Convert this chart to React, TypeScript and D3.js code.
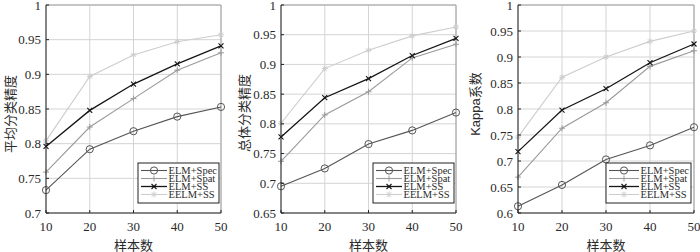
import React from "react";
import * as d3 from "d3";

const samples = [10, 20, 30, 40, 50];
const seriesNames = ["ELM+Spec", "ELM+Spat", "ELM+SS", "EELM+SS"];

// Panel 1: 平均分类精度
const aaSpec = [0.733, 0.792, 0.818, 0.839, 0.853];
const aaSpat = [0.759, 0.824, 0.865, 0.906, 0.931];
const aaSS = [0.796, 0.848, 0.886, 0.915, 0.941];
const aaEELM = [0.804, 0.897, 0.928, 0.947, 0.957];

// Panel 2: 总体分类精度
const oaSpec = [0.695, 0.725, 0.766, 0.789, 0.819];
const oaSpat = [0.737, 0.815, 0.854, 0.911, 0.934];
const oaSS = [0.778, 0.844, 0.876, 0.915, 0.944];
const oaEELM = [0.801, 0.893, 0.924, 0.948, 0.963];

// Panel 3: Kappa系数
const kSpec = [0.613, 0.654, 0.703, 0.730, 0.765];
const kSpat = [0.669, 0.763, 0.812, 0.882, 0.912];
const kSS = [0.718, 0.798, 0.839, 0.889, 0.925];
const kEELM = [0.746, 0.861, 0.900, 0.930, 0.950];

const ticks1 = [0.7, 0.75, 0.8, 0.85, 0.9, 0.95, 1];
const ticks2 = [0.65, 0.7, 0.75, 0.8, 0.85, 0.9, 0.95, 1];
const ticks3 = [0.6, 0.65, 0.7, 0.75, 0.8, 0.85, 0.9, 0.95, 1];

const colors = ["#555555", "#9a9a9a", "#151515", "#cdcdcd"];
const markerTypes = ["circle", "plus", "cross", "star"];

const SERIF = "'Liberation Serif', 'Times New Roman', 'DejaVu Serif', serif";
const CJK = "'Noto Sans CJK SC', sans-serif";

function Marker({ type, x, y, color }: { type: string; x: number; y: number; color: string }) {
  const s = 3;
  if (type === "circle")
    return <circle cx={x} cy={y} r={3.6} fill="none" stroke={color} strokeWidth={1} />;
  if (type === "plus")
    return (
      <path d={`M${x - s},${y}H${x + s}M${x},${y - s}V${y + s}`} stroke={color} strokeWidth={1} />
    );
  if (type === "cross")
    return (
      <path
        d={`M${x - 2.5},${y - 2.5}L${x + 2.5},${y + 2.5}M${x - 2.5},${y + 2.5}L${x + 2.5},${y - 2.5}`}
        stroke={color}
        strokeWidth={1.1}
      />
    );
  return (
    <path
      d={`M${x - s},${y}H${x + s}M${x},${y - s}V${y + s}M${x - 2.2},${y - 2.2}L${x + 2.2},${y + 2.2}M${x - 2.2},${y + 2.2}L${x + 2.2},${y - 2.2}`}
      stroke={color}
      strokeWidth={1}
    />
  );
}

function Panel({
  left,
  right,
  top,
  bottom,
  domain,
  ticks,
  data,
  ylabel,
  ylabelX,
  ylabelY,
  ylabelFont,
  legendX,
  legendW,
  legendLine,
}: any) {
  const x = d3.scaleLinear().domain([10, 50]).range([left, right]);
  const y = d3.scaleLinear().domain(domain).range([bottom, top]);
  const line = d3
    .line<number>()
    .x((_, i) => x(samples[i]))
    .y((d) => y(d));
  const fmt = (v: number) => String(+v.toFixed(2));
  const legendY = 163;
  const legendH = 40;
  return (
    <g>
      {samples.map((s) => (
        <line key={"gx" + s} x1={x(s)} x2={x(s)} y1={top} y2={bottom} stroke="#d4d4d4" strokeWidth={1} />
      ))}
      {ticks.map((t: number) => (
        <line key={"gy" + t} x1={left} x2={right} y1={y(t)} y2={y(t)} stroke="#d4d4d4" strokeWidth={1} />
      ))}
      <line x1={left} x2={right} y1={top} y2={top} stroke="#a0a0a0" strokeWidth={1} />
      <line x1={right} x2={right} y1={top} y2={bottom} stroke="#a0a0a0" strokeWidth={1} />
      {data.map((vals: number[], i: number) => (
        <g key={"s" + i}>
          <path d={line(vals) || ""} fill="none" stroke={colors[i]} strokeWidth={i === 2 ? 1.3 : 1.1} />
          {vals.map((v, j) => (
            <Marker key={j} type={markerTypes[i]} x={x(samples[j])} y={y(v)} color={colors[i]} />
          ))}
        </g>
      ))}
      <line x1={left} x2={right} y1={bottom} y2={bottom} stroke="#222" strokeWidth={1} />
      <line x1={left} x2={left} y1={top} y2={bottom} stroke="#222" strokeWidth={1} />
      {samples.map((s) => (
        <g key={"xt" + s}>
          <line x1={x(s)} x2={x(s)} y1={bottom} y2={bottom - 3} stroke="#222" />
          <text
            x={x(s)}
            y={bottom + 18}
            textAnchor="middle"
            fontFamily={SERIF}
            fontSize={13}
            fill="#2a2a2a"
          >
            {s}
          </text>
        </g>
      ))}
      {ticks.map((t: number) => (
        <g key={"yt" + t}>
          <line x1={left} x2={left + 3} y1={y(t)} y2={y(t)} stroke="#222" />
          <text
            x={left - 5}
            y={y(t)}
            dy="0.35em"
            textAnchor="end"
            fontFamily={SERIF}
            fontSize={13}
            fill="#2a2a2a"
          >
            {fmt(t)}
          </text>
        </g>
      ))}
      <text
        x={(left + right) / 2}
        y={244.5}
        dominantBaseline="central"
        textAnchor="middle"
        fontFamily={CJK}
        fontSize={13}
        fill="#2a2a2a"
      >
        样本数
      </text>
      <text
        transform={`translate(${ylabelX},${ylabelY}) rotate(-90)`}
        textAnchor="middle"
        dominantBaseline="central"
        fontFamily={ylabelFont}
        fontSize={13}
        fill="#2a2a2a"
      >
        {ylabel}
      </text>
      <rect x={legendX} y={legendY} width={legendW} height={legendH} fill="#fff" stroke="#222" strokeWidth={1} />
      {seriesNames.map((n, i) => {
        const ly = legendY + 7.5 + i * 8;
        const lx0 = legendX + 3;
        const lx1 = legendX + 3 + legendLine;
        return (
          <g key={"lg" + i}>
            <line x1={lx0} x2={lx1} y1={ly} y2={ly} stroke={colors[i]} strokeWidth={i === 2 ? 1.3 : 1.1} />
            <Marker type={markerTypes[i]} x={(lx0 + lx1) / 2} y={ly} color={colors[i]} />
            <text
              x={lx1 + 1.5}
              y={ly}
              dy="0.35em"
              fontFamily={SERIF}
              fontSize={10.5}
              fill="#2a2a2a"
            >
              {n}
            </text>
          </g>
        );
      })}
    </g>
  );
}

export default function App() {
  return (
    <svg
      width={700}
      height={252}
      style={{ position: "absolute", left: 0, top: 0, background: "#fff" }}
    >
      <rect width={700} height={252} fill="#fff" />
      <Panel
        left={46}
        right={221}
        top={5}
        bottom={213}
        domain={[0.7, 1]}
        ticks={ticks1}
        data={[aaSpec, aaSpat, aaSS, aaEELM]}
        ylabel="平均分类精度"
        ylabelX={9}
        ylabelY={114}
        ylabelFont={CJK}
        legendX={138}
        legendW={81}
        legendLine={26}
      />
      <Panel
        left={281}
        right={456}
        top={5}
        bottom={213}
        domain={[0.65, 1]}
        ticks={ticks2}
        data={[oaSpec, oaSpat, oaSS, oaEELM]}
        ylabel="总体分类精度"
        ylabelX={243}
        ylabelY={113}
        ylabelFont={CJK}
        legendX={373}
        legendW={81}
        legendLine={26}
      />
      <Panel
        left={518}
        right={694}
        top={5}
        bottom={213}
        domain={[0.6, 1]}
        ticks={ticks3}
        data={[kSpec, kSpat, kSS, kEELM]}
        ylabel="Kappa系数"
        ylabelX={475}
        ylabelY={104}
        ylabelFont={"'Liberation Sans', " + CJK}
        legendX={606}
        legendW={85}
        legendLine={30}
      />
    </svg>
  );
}
